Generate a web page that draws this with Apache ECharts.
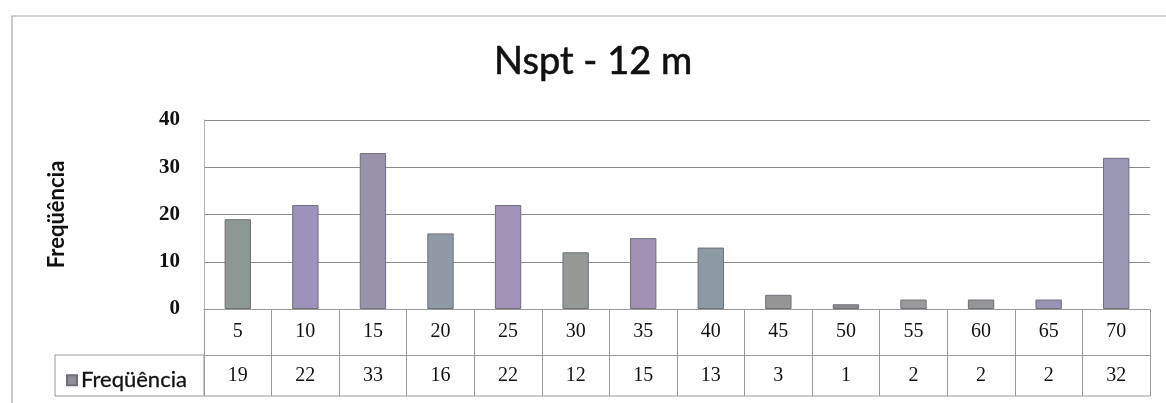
<!DOCTYPE html>
<html>
<head>
<meta charset="utf-8">
<script src="https://cdn.jsdelivr.net/npm/echarts@6/dist/echarts.min.js"></script>
<style>
  html, body { margin: 0; padding: 0; background: #ffffff; }
  #chart { width: 1166px; height: 403px; }
</style>
</head>
<body>
<div id="chart"></div>
<script>
// Nspt classes (m) and their counts
const categories = ['5', '10', '15', '20', '25', '30', '35', '40', '45', '50', '55', '60', '65', '70'];
const frequencia = [19, 22, 33, 16, 22, 12, 15, 13, 3, 1, 2, 2, 2, 32];
const barColors = ['#8d9793', '#9c92bb', '#9893aa', '#8f9aa6', '#a293b9', '#959a97', '#a091b5',
                   '#8e9aa3', '#959596', '#8a8a8f', '#9a9a9c', '#939596', '#9b95b5', '#9a98b4'];
const yTicks = { min: 0, max: 40, interval: 10 };

const W = 1166, H = 403;
const plot = { left: 204, right: 1150, top: 120, bottom: 309 };
const rowH1 = 46;   // category row height
const rowH2 = 41;   // value row height
const legendCellLeft = 55;
const lineColor = '#9a9a9a';
const serif = '"Liberation Serif", "DejaVu Serif", serif';
const sans = 'Lato, "Open Sans", sans-serif';

const chart = echarts.init(document.getElementById('chart'), null, { renderer: 'canvas' });

const tableBottom = plot.bottom + rowH1 + rowH2;

chart.setOption({
  backgroundColor: '#ffffff',
  animation: false,
  title: {
    text: 'Nspt - 12 m',
    left: 489,
    top: 38,
    textStyle: { fontFamily: sans, fontSize: 38, fontWeight: 'normal', color: '#111111',
                 textBorderColor: '#111111', textBorderWidth: 0.6 }
  },
  legend: {
    left: legendCellLeft + 6,
    top: plot.bottom + rowH1 + 9,
    itemWidth: 10,
    itemHeight: 10,
    itemGap: 4,
    icon: 'rect',
    data: ['Freqüência'],
    textStyle: { fontFamily: sans, fontSize: 22, color: '#111111', padding: [0, 0, 0, -1],
                 textBorderColor: '#111111', textBorderWidth: 0.3 }
  },
  grid: {
    left: plot.left,
    right: W - plot.right,
    top: plot.top,
    bottom: H - plot.bottom,
    containLabel: false
  },
  xAxis: [
    {
      type: 'category',
      data: categories,
      position: 'bottom',
      axisLine: { show: true, lineStyle: { color: lineColor, width: 1 } },
      axisTick: { show: true, length: rowH1 + rowH2, lineStyle: { color: lineColor, width: 1 } },
      axisLabel: {
        margin: rowH1 / 2,
        verticalAlign: 'middle',
        fontFamily: serif, fontSize: 20, color: '#111111'
      },
      splitLine: { show: false }
    },
    {
      type: 'category',
      data: frequencia.map(String),
      position: 'bottom',
      offset: rowH1,
      axisLine: { show: true, lineStyle: { color: lineColor, width: 1 } },
      axisTick: { show: false },
      axisLabel: {
        margin: rowH2 / 2,
        verticalAlign: 'middle',
        fontFamily: serif, fontSize: 20, color: '#111111'
      },
      splitLine: { show: false }
    }
  ],
  yAxis: {
    type: 'value',
    min: yTicks.min,
    max: yTicks.max,
    interval: yTicks.interval,
    name: 'Freqüência',
    nameLocation: 'middle',
    nameRotate: 90,
    nameGap: 136,
    nameTextStyle: { fontFamily: sans, fontSize: 22, fontWeight: 'bold', color: '#111111' },
    axisLine: { show: true, lineStyle: { color: '#b0b0b0', width: 1 } },
    axisTick: { show: false },
    axisLabel: { margin: 24, fontFamily: serif, fontSize: 21, fontWeight: 'bold', color: '#111111' },
    splitLine: { show: true, lineStyle: { color: '#8c8c8c', width: 1.2 } }
  },
  series: [{
    name: 'Freqüência',
    type: 'bar',
    xAxisIndex: 0,
    barWidth: '39%',
    itemStyle: { color: '#8f8f95', borderColor: '#6f6f78', borderWidth: 1 },
    data: frequencia.map((v, i) => ({ value: v, itemStyle: { color: barColors[i] } }))
  }],
  graphic: [
    // outer chart frame (top and left edges)
    {
      type: 'polyline', silent: true,
      shape: { points: [[12, H + 2], [12, 16], [W + 2, 16]] },
      style: { stroke: '#a8a8a8', lineWidth: 1.2, fill: null }
    },
    // legend cell of the data table
    {
      type: 'rect', silent: true,
      shape: { x: legendCellLeft, y: plot.bottom + rowH1, width: plot.left - legendCellLeft, height: rowH2 },
      style: { stroke: lineColor, lineWidth: 1, fill: null }
    },
    // bottom edge of the data table
    {
      type: 'line', silent: true,
      shape: { x1: plot.left, y1: tableBottom, x2: plot.right, y2: tableBottom },
      style: { stroke: lineColor, lineWidth: 1 }
    }
  ]
});
</script>
</body>
</html>
